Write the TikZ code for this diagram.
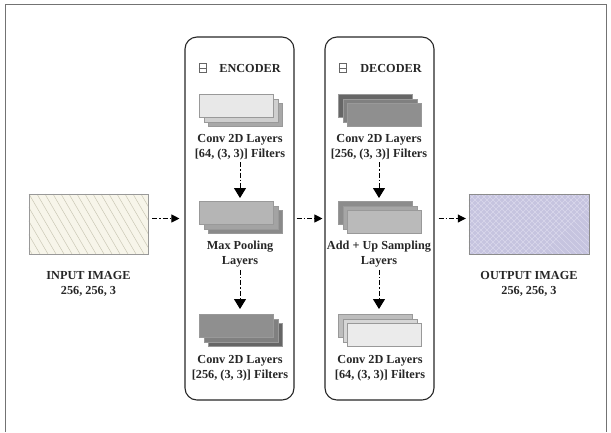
\documentclass[tikz,border=0pt]{standalone}
\usepackage{fontspec}
\setmainfont{Liberation Serif}
\usetikzlibrary{positioning}
\usetikzlibrary{arrows.meta}

\definecolor{inputfill}{HTML}{F7F5EA}
\definecolor{inputhatch}{HTML}{CBC8B6}
\definecolor{outputfill}{HTML}{C6C4DF}
\definecolor{outputhatch}{HTML}{DAD8EC}

\begin{document}
\begin{tikzpicture}[x=1bp, y=-1bp,
    panel/.style={draw=black!85, line width=1.1bp, rounded corners=12bp, minimum width=109bp, minimum height=363bp, inner sep=0pt},
    sheet/.style={fill=#1, draw=black!40, line width=0.3bp, minimum width=74bp, minimum height=23bp, inner sep=0pt, anchor=north west},
    caption/.style={align=center, text=black!85, font=\fontsize{12.3}{15}\selectfont\bfseries, inner sep=2bp},
    head/.style={text=black!85, font=\fontsize{12.3}{15}\selectfont\bfseries, inner sep=0pt},
    icon/.style={draw=black!60, line width=0.6bp, minimum width=7bp, minimum height=9bp, inner sep=0pt},
    image/.style={minimum width=119bp, minimum height=60bp, inner sep=0pt},
    flow/.style={dash pattern=on 5bp off 2bp on 1.5bp off 2bp, line width=1bp, -{Triangle[width=8bp,length=8bp]}},
    bigflow/.style={flow, -{Triangle[width=12bp,length=10bp]}}]

  \useasboundingbox (0,0) rectangle (611,432);

  % outer frame
  \draw[black!55, line width=0.8bp] (5,432) |- (606,4) -- (606,432);

  % the two panels
  \node[panel] (encbox) at (239.5,218.5) {};
  \node[panel] (decbox) at (379.5,218.5) {};

  \node[head] (enchead) at (250,68) {ENCODER};
  \node[icon, left=13bp of enchead] (encicon) {};
  \draw[black!60, line width=0.6bp] (encicon.west) -- (encicon.east);
  \node[head] (dechead) at (391,68) {DECODER};
  \node[icon, left=14bp of dechead] (decicon) {};
  \draw[black!60, line width=0.6bp] (decicon.west) -- (decicon.east);

  % encoder stacks: front sheet top left
  \foreach \n/\y/\ca/\cb/\cc in {1/94/black!9/black!19/black!34, 2/201/black!29/black!36/black!46, 3/314/black!44/black!50/black!60} {
    \node[sheet=\cc] (enc\n c) at (208,\y+9) {};
    \node[sheet=\cb] (enc\n b) at (203.5,\y+4.5) {};
    \node[sheet=\ca] (enc\n) at (199,\y) {};
  }

  % decoder stacks: front sheet bottom right
  \foreach \n/\y/\ca/\cb/\cc in {1/94/black!60/black!50/black!44, 2/201/black!45/black!35/black!27, 3/314/black!26/black!16/black!8} {
    \node[sheet=\ca] (dec\n a) at (338,\y) {};
    \node[sheet=\cb] (dec\n b) at (342.5,\y+4.5) {};
    \node[sheet=\cc] (dec\n) at (347,\y+9) {};
  }

  \node[caption] (enc1lbl) at (240,147) {Conv 2D Layers\\{}[64, (3, 3)] Filters};
  \node[caption] (enc2lbl) at (240,254.5) {Max Pooling\\Layers};
  \node[caption] (enc3lbl) at (240,368) {Conv 2D Layers\\{}[256, (3, 3)] Filters};
  \node[caption] (dec1lbl) at (379,147) {Conv 2D Layers\\{}[256, (3, 3)] Filters};
  \node[caption] (dec2lbl) at (379,254.5) {Add + Up Sampling\\Layers};
  \node[caption] (dec3lbl) at (380,368) {Conv 2D Layers\\{}[64, (3, 3)] Filters};

  % input and output images
  \node[image, fill=inputfill] (inimg) at (88.5,224) {};
  \begin{scope}
    \clip (inimg.north west) rectangle (inimg.south east);
    \foreach \i in {-6,...,16} {
      \draw[inputhatch, line width=0.5bp] (29+\i*8,194) -- ++(35,60);
    }
  \end{scope}
  \draw[black!40, line width=0.6bp] (inimg.north west) rectangle (inimg.south east);

  \node[image, fill=outputfill, minimum width=120bp] (outimg) at (529,224) {};
  \begin{scope}
    \clip (outimg.north west) rectangle (outimg.south east);
    \foreach \i in {-12,...,22} {
      \draw[outputhatch, line width=0.4bp] (469+\i*6,194) -- ++(60,60);
      \draw[outputhatch, line width=0.4bp] (469+\i*6,194) -- ++(-60,60);
    }
  \end{scope}
  \draw[black!45, line width=0.6bp] (outimg.north west) rectangle (outimg.south east);

  \node[caption] (inlbl) at (88.5,284) {INPUT IMAGE\\256, 256, 3};
  \node[caption] (outlbl) at (529,284) {OUTPUT IMAGE\\256, 256, 3};

  % vertical flow inside the panels
  \draw[bigflow, shorten >=3bp] (enc1lbl.south) -- (enc1lbl.south |- enc2.north);
  \draw[bigflow, shorten >=5bp] (enc2lbl.south) -- (enc2lbl.south |- enc3.north);
  \draw[bigflow, shorten >=3bp] (dec1lbl.south) -- (dec1lbl.south |- dec2a.north);
  \draw[bigflow, shorten >=5bp] (dec2lbl.south) -- (dec2lbl.south |- dec3a.north);

  % horizontal flow between the blocks
  \draw[flow, shorten <=4bp, shorten >=5bp] (inimg.east |- encbox.center) -- (encbox.west);
  \draw[flow, shorten <=2bp, shorten >=2bp] (encbox.east) -- (decbox.west);
  \draw[flow, shorten <=4bp, shorten >=3bp] (decbox.east) -- (outimg.west |- decbox.center);
\end{tikzpicture}
\end{document}
